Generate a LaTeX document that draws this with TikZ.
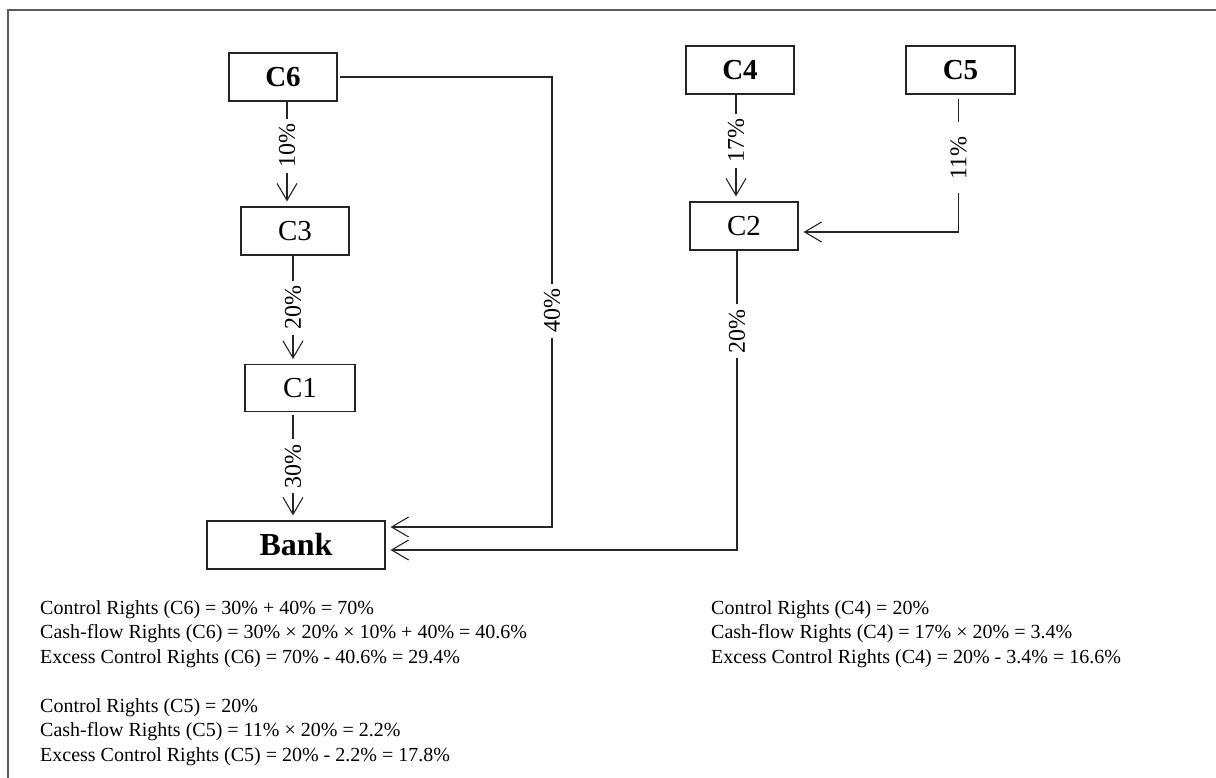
\documentclass[tikz,border=0pt]{standalone}
\usepackage{fontspec}
\setmainfont{Liberation Serif}
\usetikzlibrary{arrows.meta}
\begin{document}
\begin{tikzpicture}[x=1pt,y=-1pt,
  box/.style={draw=black!85, line width=1.1pt, minimum width=108pt, minimum height=48pt, inner sep=0pt, font=\fontsize{29}{32}\selectfont},
  conn/.style={draw=black!85, line width=1.1pt},
  arr/.style={conn, -{Straight Barb[length=17pt,width=20pt]}, shorten >=5pt},
  lab/.style={fill=white, rotate=90, inner xsep=5pt, inner ysep=1pt, font=\fontsize{24}{28}\selectfont},
  txt/.style={anchor=north west, align=left, inner sep=0pt, font=\fontsize{20}{24.5}\selectfont}]
\useasboundingbox (0,0) rectangle (1216,778);
\draw[black!65, line width=2pt] (1216,10) -- (8,10) -- (8,778);

\node[box] (c6) at (283,77) {\textbf{C6}};
\node[box] (c3) at (295,231) {C3};
\node[box, minimum width=110pt, minimum height=47pt] (c1) at (300,388) {C1};
\node[box, minimum width=178pt, minimum height=48pt, font=\fontsize{32}{36}\selectfont\bfseries] (bank) at (296,545) {Bank};
\node[box] (c4) at (740,70) {\textbf{C4}};
\node[box, minimum width=109pt] (c5) at (960.5,70) {\textbf{C5}};
\node[box] (c2) at (744,226) {C2};

\draw[arr] ([xshift=4pt]c6.south) -- node[lab,pos=0.42]{10\%} ([xshift=-8pt]c3.north);
\draw[arr] ([xshift=-2pt]c3.south) -- node[lab,pos=0.48]{20\%} ([xshift=-7pt]c1.north);
\draw[arr, shorten <=3pt] ([xshift=-7pt]c1.south) -- node[lab,pos=0.5]{30\%} ([xshift=-3pt]bank.north);
\draw[arr] ([xshift=-4pt]c4.south) -- node[lab,pos=0.43]{17\%} ([xshift=-8pt]c2.north);
\draw[arr, shorten <=4pt] ([xshift=-2pt]c5.south) |- node[lab,pos=0.23,inner xsep=14pt]{11\%} ([yshift=-6pt]c2.east);
\coordinate (k1) at (552,77);
\draw[arr, shorten <=2pt] (c6.east) -- (k1) |- node[lab,pos=0.26]{40\%} ([yshift=18pt]bank.east);
\draw[arr] ([xshift=-7pt]c2.south) |- node[lab,pos=0.135]{20\%} ([yshift=-5pt]bank.east);

\node[txt] (t1) at (40,600) {Control Rights (C6) = 30\% + 40\% = 70\%\\
Cash-flow Rights (C6) = 30\% × 20\% × 10\% + 40\% = 40.6\%\\
Excess Control Rights (C6) = 70\% - 40.6\% = 29.4\%};
\node[txt] (t2) at (40,698) {Control Rights (C5) = 20\%\\
Cash-flow Rights (C5) = 11\% × 20\% = 2.2\%\\
Excess Control Rights (C5) = 20\% - 2.2\% = 17.8\%};
\node[txt] (t3) at (711,600) {Control Rights (C4) = 20\%\\
Cash-flow Rights (C4) = 17\% × 20\% = 3.4\%\\
Excess Control Rights (C4) = 20\% - 3.4\% = 16.6\%};
\end{tikzpicture}
\end{document}
